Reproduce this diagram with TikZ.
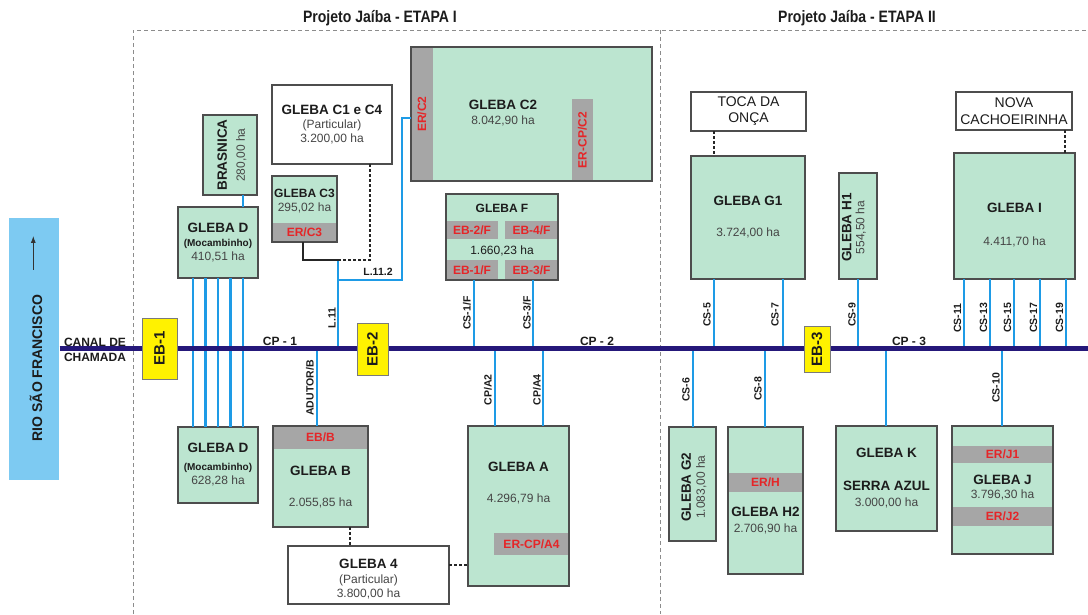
\documentclass[tikz,border=0pt]{standalone}
\usepackage{fontspec}
\setmainfont{Liberation Sans}
\usepackage{xcolor}
\definecolor{glebagreen}{HTML}{BCE5D0}
\definecolor{stripgray}{HTML}{A6A6A6}
\definecolor{tagred}{HTML}{E52528}
\definecolor{feedblue}{HTML}{1E9BE6}
\definecolor{canalnavy}{HTML}{25187A}
\definecolor{pumpyellow}{HTML}{FFF200}
\definecolor{pumpedge}{HTML}{7A7A7A}
\definecolor{riverblue}{HTML}{7DCAF2}
\definecolor{boxline}{HTML}{4D4D4D}
\definecolor{hagray}{HTML}{454545}
\definecolor{inkdark}{HTML}{1C1C1C}
\definecolor{framegray}{HTML}{8C8C8C}
\usepackage{tikz}
\usetikzlibrary{arrows.meta,calc}

\newcommand{\gtitle}{\bfseries\fontsize{13.5}{14}\selectfont}
\newcommand{\gsmall}{\bfseries\fontsize{12}{14}\selectfont}
\newcommand{\gha}{\mdseries\fontsize{12}{14}\selectfont\color{hagray}}
\newcommand{\gsub}{\bfseries\fontsize{10}{14}\selectfont}
\newcommand{\gtag}{\bfseries\fontsize{12}{14}\selectfont}
\newcommand{\glbl}{\bfseries\fontsize{10.5}{12}\selectfont}
\newcommand{\gpump}{\bfseries\fontsize{15}{16}\selectfont}
\newcommand{\gplace}{\mdseries\fontsize{14}{16}\selectfont}

\begin{document}
\begin{tikzpicture}[x=1pt, y=-1pt,
    gleba/.style={draw=boxline, fill=glebagreen, line width=1.1pt, inner sep=0pt,
      outer sep=0pt, anchor=north west, align=center, font=\gtitle, text=inkdark},
    privbox/.style={gleba, fill=white},
    strip/.style={fill=stripgray, inner sep=0pt, outer sep=0pt, text=tagred, font=\gtag},
    pump/.style={draw=pumpedge, fill=pumpyellow, line width=0.8pt, inner sep=0pt,
      rotate=90, font=\gpump, text=inkdark},
    feed/.style={draw=feedblue, line width=2.8pt},
    canal/.style={draw=canalnavy, line width=5pt},
    link/.style={draw=black!85, line width=2.6pt, dash pattern=on 3pt off 2pt},
    outlet/.style={draw=black!85, line width=2.6pt},
    lbl/.style={font=\glbl, rotate=90, inner sep=0pt, text=inkdark},
    txt/.style={align=center, inner sep=0pt, font=\gtitle, text=inkdark},
    zoneframe/.style={draw=framegray, line width=0.9pt, dash pattern=on 4pt off 3pt}]
  \useasboundingbox (0,0) rectangle (1088,614);
  % Zones
  \draw[zoneframe] (133,614) -- (133,30) -- (1088,30);
  \draw[zoneframe] (660,30) -- (660,614);
  \node[txt, font=\bfseries\fontsize{16.5}{18}\selectfont] (ttl1) at (380,18)
    {\scalebox{0.85}[1]{Projeto Jaíba - ETAPA I}};
  \node[txt, font=\bfseries\fontsize{16.5}{18}\selectfont] (ttl2) at (857,18)
    {\scalebox{0.85}[1]{Projeto Jaíba - ETAPA II}};

  % River
  \node[fill=riverblue, minimum width=50pt, minimum height=262pt, inner sep=0pt] (rio) at (34.3,349) {};
  \node[lbl, font=\bfseries\fontsize{14}{16}\selectfont] (trio) at (36,368) {RIO SÃO FRANCISCO};
  \draw[-{Latex[length=7pt,width=5pt]}, line width=1.1pt, draw=black!80]
    ($(rio.north)+(-1,52)$) -- ++(0,-34);

  % Etapa I: boxes
  \node[gleba, minimum width=80pt, minimum height=71pt] (dtop) at (178,207)
    {GLEBA D\\{\gsub (Mocambinho)}\\{\gha 410,51 ha}};
  \node[gleba, minimum width=80pt, minimum height=76pt] (dbot) at (178,427)
    {GLEBA D\\[4pt]{\gsub (Mocambinho)}\\{\gha 628,28 ha}};
  \node[gleba, minimum width=54pt, minimum height=80pt] (bras) at (203,115) {};
  \node[txt, rotate=90] (tbras) at (232,155) {BRASNICA\\[4pt]{\gha 280,00 ha}};
  \node[privbox, minimum width=120pt, minimum height=79pt] (c14) at (272,85)
    {GLEBA C1 e C4\\{\gha (Particular)}\\{\gha 3.200,00 ha}};
  \node[gleba, minimum width=65pt, minimum height=66pt] (c3) at (272,176) {};
  \node[txt, font=\gsmall] (tc3) at (304.5,201) {GLEBA C3\\{\gha 295,02 ha}};
  \node[gleba, minimum width=241pt, minimum height=134pt] (c2) at (411,47) {};
  \node[txt] (tc2) at (503,113.5) {GLEBA C2\\[1pt]{\gha 8.042,90 ha}};
  \node[gleba, minimum width=112pt, minimum height=86pt] (glF) at (446,194) {};
  \node[txt, font=\gsmall] (tF) at (502,208) {GLEBA F};
  \node[txt, font=\gha] (tFha) at (502,251) {1.660,23 ha};
  \node[gleba, minimum width=95pt, minimum height=101pt] (glB) at (273,426) {};
  \node[txt] (tB) at (320.5,487.5) {GLEBA B\\[17pt]{\gha 2.055,85 ha}};
  \node[privbox, minimum width=161pt, minimum height=58pt] (gl4) at (288,546) {};
  \node[txt] (t4) at (368.5,579.5) {GLEBA 4\\[1pt]{\gha (Particular)}\\{\gha 3.800,00 ha}};
  \node[gleba, minimum width=101pt, minimum height=160pt] (glA) at (468,426) {};
  \node[txt] (tA) at (518.5,483.5) {GLEBA A\\[17pt]{\gha 4.296,79 ha}};

  % Etapa II: boxes
  \node[privbox, font=\gplace, minimum width=115pt, minimum height=39pt] (toca) at (691,92)
    {TOCA DA\\ONÇA};
  \node[gleba, minimum width=114pt, minimum height=123pt] (gG1) at (691,156)
    {GLEBA G1\\[17pt]{\gha 3.724,00 ha}};
  \node[gleba, minimum width=38pt, minimum height=106pt] (gH1) at (839,173) {};
  \node[txt, rotate=90] (tH1) at (854,227.5) {GLEBA H1\\[-1pt]{\gha 554,50 ha}};
  \node[privbox, font=\gplace, minimum width=116pt, minimum height=38pt] (nova) at (956,92)
    {NOVA\\[1pt]CACHOEIRINHA};
  \node[gleba, minimum width=121pt, minimum height=126pt] (gI) at (954,153) {};
  \node[txt] (tI) at (1014.5,225.5) {GLEBA I\\[19pt]{\gha 4.411,70 ha}};
  \node[gleba, minimum width=47pt, minimum height=114pt] (gG2) at (669,427) {};
  \node[txt, rotate=90] (tG2) at (694,487) {GLEBA G2\\{\gha 1.083,00 ha}};
  \node[gleba, minimum width=75pt, minimum height=147pt] (gH2) at (728,427) {};
  \node[txt] (tH2) at (765.5,521) {GLEBA H2\\[2pt]{\gha 2.706,90 ha}};
  \node[gleba, minimum width=101pt, minimum height=105pt] (gK) at (836,426)
    {GLEBA K\\[19pt]SERRA AZUL\\[2pt]{\gha 3.000,00 ha}};
  \node[gleba, minimum width=101pt, minimum height=128pt] (gJ) at (952,426) {};
  \node[txt] (tJ) at (1002.5,488) {GLEBA J\\{\gha 3.796,30 ha}};

  % Reservoirs and pump stations inside the glebas
  \node[strip, anchor=north west, minimum width=65pt, minimum height=19pt] (erc3) at (272,223) {ER/C3};
  \node[strip, rotate=90, minimum width=134pt, minimum height=22pt] (erc2) at (422,114) {ER/C2};
  \node[strip, rotate=90, minimum width=82pt, minimum height=21pt] (ercpc2) at (582.5,140) {ER-CP/C2};
  \node[strip, anchor=north west, minimum width=52pt, minimum height=18pt] (eb2f) at (446,221) {EB-2/F};
  \node[strip, anchor=north west, minimum width=53pt, minimum height=18pt] (eb4f) at (505,221) {EB-4/F};
  \node[strip, anchor=north west, minimum width=52pt, minimum height=20pt] (eb1f) at (446,260) {EB-1/F};
  \node[strip, anchor=north west, minimum width=53pt, minimum height=20pt] (eb3f) at (505,260) {EB-3/F};
  \node[strip, anchor=north west, minimum width=95pt, minimum height=23pt] (ebB) at (273,426) {EB/B};
  \node[strip, anchor=north west, minimum width=75pt, minimum height=22pt] (ercpa4) at (494,533) {ER-CP/A4};
  \node[strip, anchor=north west, minimum width=75pt, minimum height=19pt] (erH) at (728,473) {ER/H};
  \node[strip, anchor=north west, minimum width=101pt, minimum height=17pt] (erJ1) at (952,446) {ER/J1};
  \node[strip, anchor=north west, minimum width=101pt, minimum height=19pt] (erJ2) at (952,507) {ER/J2};
  \foreach \b in {c3,c2,glF,glB,glA,gH2,gJ}
    \draw[draw=boxline, line width=1.1pt] (\b.north west) rectangle (\b.south east);

  % Offtakes on the main canal
  \foreach \n/\x in {l11/338, adb/317, cs1f/474, cs3f/533, cpa2/495, cpa4/543,
      cs5/714, cs7/783, cs9/858, cs6/693, cs8/765, csk/886, cs10/1002}
    \coordinate (\n) at (\x,348.5);
  \coordinate (canalend) at (1088,348.5);
  \coordinate (l11top) at (338,260);

  % Feeders
  \foreach \x in {193,205.5,218,230.5,243}
    \draw[feed] (dtop.south -| \x,0) -- (dbot.north -| \x,0);
  \draw[feed] (bras.south -| 243,0) -- (dtop.north -| 243,0);
  \draw[feed] (l11) -- (l11top);
  \draw[feed] (l11 |- 0,280)
    -- node[above=3pt, font=\glbl, inner sep=0pt, text=inkdark, xshift=8pt] (ll112) {L.11.2} ++(64,0)
    |- (erc2.north |- 0,118);
  \draw[outlet] (erc3.south -| 303,0) |- (l11top);
  \draw[link] (c14.south -| 370,0) |- (l11top);
  \draw[feed] (adb) -- (glB.north -| adb);
  \draw[feed] (glF.south -| cs1f) -- (cs1f);
  \draw[feed] (glF.south -| cs3f) -- (cs3f);
  \draw[feed] (cpa2) -- (glA.north -| cpa2);
  \draw[feed] (cpa4) -- (glA.north -| cpa4);
  \draw[link] (glB.south -| 350,0) -- (gl4.north -| 350,0);
  \draw[link] (gl4.east |- 0,565) -- (glA.west |- 0,565);
  \draw[link] (toca.south -| 714,0) -- (gG1.north -| 714,0);
  \draw[link] (nova.south -| 1065,0) -- (gI.north -| 1065,0);
  \draw[feed] (gG1.south -| cs5) -- (cs5);
  \draw[feed] (gG1.south -| cs7) -- (cs7);
  \draw[feed] (gH1.south -| cs9) -- (cs9);
  \draw[feed] (cs6) -- (gG2.north -| cs6);
  \draw[feed] (cs8) -- (gH2.north -| cs8);
  \draw[feed] (csk) -- (gK.north -| csk);
  \draw[feed] (cs10) -- (gJ.north -| cs10);
  \foreach \x/\n in {964/11, 990/13, 1014/15, 1040/17, 1066/19} {
    \coordinate (cs\n) at (\x,348.5);
    \draw[feed] (gI.south -| cs\n) -- (cs\n);
    \node[lbl] (lcs\n) at (\x-6.5,318) {CS-\n};
  }

  % Main canal and pump stations
  \draw[canal] (rio.east |- 0,348.5) -- (canalend);
  \node[pump, minimum width=61pt, minimum height=35pt] (eb1) at (159.5,348.5) {EB-1};
  \node[pump, minimum width=52pt, minimum height=31pt] (eb2) at (372.5,349) {EB-2};
  \node[pump, minimum width=46pt, minimum height=26pt] (eb3) at (817,349) {EB-3};

  % Canal labels
  \node[txt, font=\bfseries\fontsize{12}{15}\selectfont] (tcanal) at (95,349.5) {CANAL DE\\CHAMADA};
  \node[txt, font=\gtag] (tcp1) at (280,341) {CP - 1};
  \node[txt, font=\gtag] (tcp2) at (597,341) {CP - 2};
  \node[txt, font=\gtag] (tcp3) at (909,341) {CP - 3};
  \node[lbl] (ll11) at (332,318) {L.11};
  \node[lbl] (ladb) at (310,388) {ADUTOR/B};
  \node[lbl] (lcs1f) at (467,313) {CS-1/F};
  \node[lbl] (lcs3f) at (527,313) {CS-3/F};
  \node[lbl] (lcpa2) at (488,390) {CP/A2};
  \node[lbl] (lcpa4) at (537,390) {CP/A4};
  \node[lbl] (lcs5) at (707,315) {CS-5};
  \node[lbl] (lcs7) at (775,315) {CS-7};
  \node[lbl] (lcs9) at (852,315) {CS-9};
  \node[lbl] (lcs6) at (686,390) {CS-6};
  \node[lbl] (lcs8) at (758,389) {CS-8};
  \node[lbl] (lcs10) at (996,388) {CS-10};
\end{tikzpicture}
\end{document}
